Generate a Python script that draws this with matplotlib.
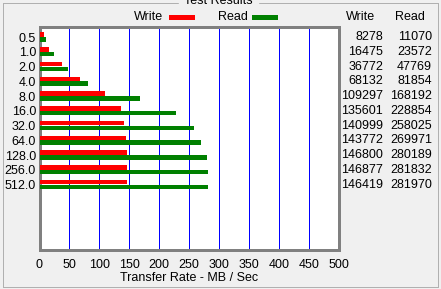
import matplotlib
matplotlib.use("Agg")
import matplotlib.pyplot as plt
from matplotlib.patches import Rectangle
from matplotlib.transforms import blended_transform_factory

plt.rcParams['font.family'] = ['Liberation Sans', 'DejaVu Sans']

sizes = ['0.5', '1.0', '2.0', '4.0', '8.0', '16.0', '32.0', '64.0', '128.0', '256.0', '512.0']
write_kb = [8278, 16475, 36772, 68132, 109297, 135601, 140999, 143772, 146800, 146877, 146419]
read_kb = [11070, 23572, 47769, 81854, 168192, 228854, 258025, 269971, 280189, 281832, 281970]
xticks = [0, 50, 100, 150, 200, 250, 300, 350, 400, 450, 500]

W, H = 441, 289
BG = '#F0F0F0'
PX = 0.72  # one pixel in points at 100 dpi
fig = plt.figure(figsize=(W / 100, H / 100), dpi=100, facecolor=BG)

def fx(x):
    return x / W

def fy(y):
    return 1 - y / H

# group box
fig.patches.append(Rectangle((fx(2.5), fy(286.5)), fx(435), (284) / H, transform=fig.transFigure,
                             fill=False, edgecolor='#B0B0B0', lw=PX, antialiased=False))
fig.text(fx(218.5), fy(1.5), 'Test Results', ha='center', va='center', fontsize=9,
         color='black', backgroundcolor=BG)

ax = fig.add_axes([fx(39.5), fy(250), (338.7 - 39.5) / W, (250 - 27) / H])
ax.set_facecolor('white')

pos = list(range(len(sizes)))
write_mb = [v / 1000 for v in write_kb]
read_mb = [v / 1000 for v in read_kb]
ax.barh([p - 0.16 for p in pos], write_mb, height=0.31, color='#FF0000', zorder=3,
        antialiased=False)
ax.barh([p + 0.16 for p in pos], read_mb, height=0.31, color='#008000', zorder=3,
        antialiased=False)

ax.set_xlim(0, 500)
ax.set_ylim(14.44, -0.678)
ax.set_xticks(xticks)
ax.set_xticklabels([str(t) for t in xticks], fontsize=9)
ax.set_yticks(pos)
ax.set_yticklabels(sizes, fontsize=9)
ax.tick_params(axis='both', length=0)
ax.tick_params(axis='x', pad=6.5)
ax.tick_params(axis='y', pad=2.5)
for t in xticks[1:-1]:
    ax.axvline(t, color='#0000FF', lw=PX, zorder=2, antialiased=False)
for s in ax.spines.values():
    s.set_color('#808080')
    s.set_linewidth(PX * 1.4)
    s.set_antialiased(False)
ax.set_xlabel('Transfer Rate - MB / Sec', fontsize=9, labelpad=1)

# legend
fig.text(fx(149), fy(17), 'Write', ha='center', va='center', fontsize=9)
fig.add_artist(plt.Line2D([fx(169), fx(194)], [fy(17), fy(17)], color='#FF0000', lw=3.4,
                          solid_capstyle='butt', transform=fig.transFigure, antialiased=False))
fig.text(fx(232.5), fy(17), 'Read', ha='center', va='center', fontsize=9)
fig.add_artist(plt.Line2D([fx(252), fx(277)], [fy(17), fy(17)], color='#008000', lw=3.4,
                          solid_capstyle='butt', transform=fig.transFigure, antialiased=False))

# right table
fig.text(fx(360.5), fy(17), 'Write', ha='center', va='center', fontsize=9)
fig.text(fx(409.5), fy(17), 'Read', ha='center', va='center', fontsize=9)
tr = blended_transform_factory(fig.transFigure, ax.transData)
for p, w, r in zip(pos, write_kb, read_kb):
    fig.text(fx(383), p, str(w), ha='right', va='center', fontsize=9, transform=tr)
    fig.text(fx(432), p, str(r), ha='right', va='center', fontsize=9, transform=tr)

fig.savefig('out.png', dpi=100, facecolor=BG)
